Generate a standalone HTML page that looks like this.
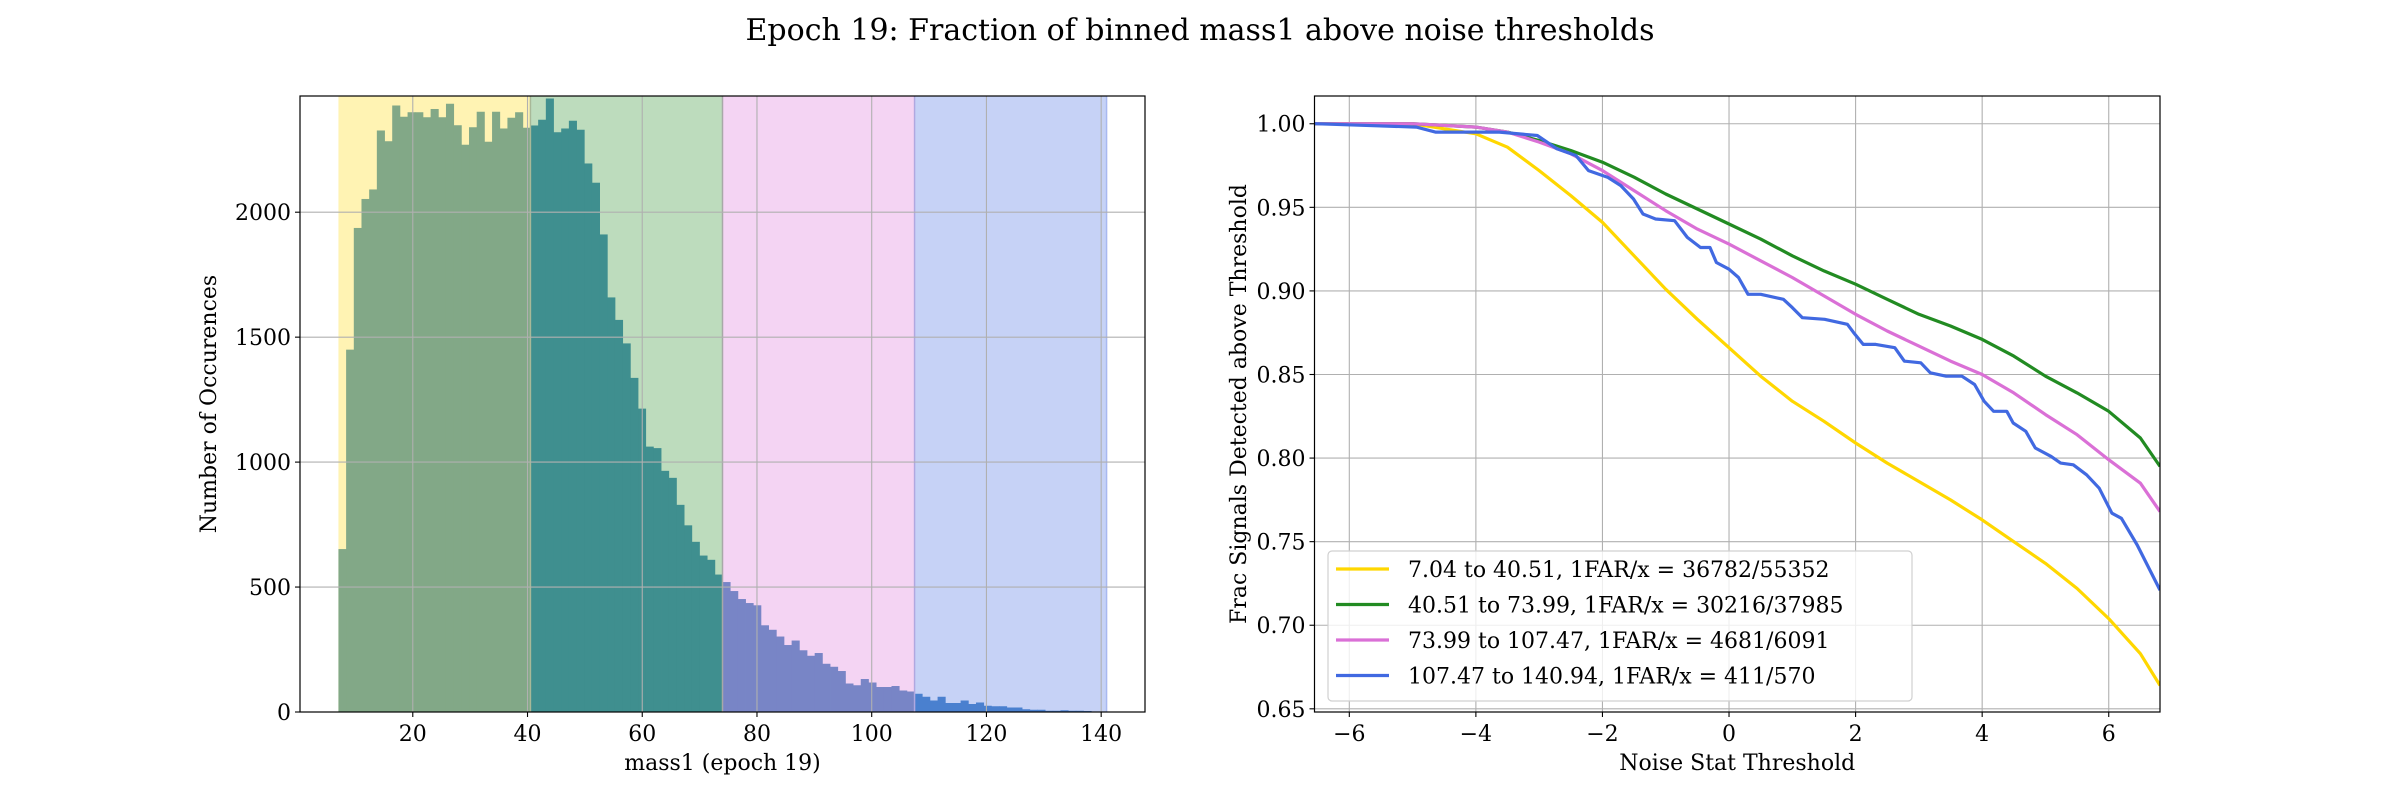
<!DOCTYPE html>
<html><head><meta charset="utf-8"><style>
html,body{margin:0;padding:0;background:#fff;}
svg{display:block;font-family:"DejaVu Serif","Liberation Serif",serif;}
</style></head><body>
<svg id="fig" width="2400" height="800" viewBox="0 0 2400 800" xmlns="http://www.w3.org/2000/svg">
<text x="1200" y="40" font-size="30" text-anchor="middle" fill="#000">Epoch 19: Fraction of binned mass1 above noise thresholds</text>
<g id="left"></g>
<g id="right"></g>
</svg>
<script>
// ---- Histogram data ----
const binStart = 7.04;
const binEnd = 140.94;
const regionEdges = [7.04, 40.51, 73.99, 107.47, 140.94];
const histCounts = [
 652,1450,1937,2053,2091,2327,2284,2427,2382,2400,2400,2380,2413,2380,2434,2348,2270,2340,2402,2282,2402,2335,2378,2400,2338,
 2347,2370,2455,2320,2335,2366,2330,2195,2118,1911,1659,1569,1475,1337,1214,1062,1056,965,937,829,747,681,626,609,550,
 520,484,452,436,427,347,329,302,268,286,247,225,236,193,181,164,114,107,132,118,100,100,104,86,82,
 73,61,46,61,36,36,46,32,38,25,23,23,18,18,11,9,9,5,5,7,5,5,4,2,2];
const histXTicks = [20,40,60,80,100,120,140];
const histYTicks = [0,500,1000,1500,2000];

// ---- Curve data ----
const curveX = [-6.55,-5,-4.5,-4,-3.5,-3,-2.5,-2,-1.5,-1,-0.5,0,0.5,1,1.5,2,2.5,3,3.5,4,4.5,5,5.5,6,6.5,6.81];
const yellowY = [1,1,0.997,0.994,0.986,0.972,0.957,0.941,0.921,0.901,0.883,0.866,0.849,0.834,0.822,0.809,0.797,0.786,0.775,0.763,0.750,0.737,0.722,0.704,0.683,0.664];
const greenY  = [1,1,0.999,0.998,0.995,0.990,0.984,0.977,0.968,0.958,0.949,0.940,0.931,0.921,0.912,0.904,0.895,0.886,0.879,0.871,0.861,0.849,0.839,0.828,0.812,0.795];
const pinkY   = [1,1,0.999,0.998,0.995,0.989,0.982,0.972,0.960,0.948,0.937,0.928,0.918,0.908,0.897,0.886,0.876,0.867,0.858,0.850,0.839,0.826,0.814,0.799,0.785,0.768];
const blueX = [-6.55,-4.94,-4.64,-3.63,-3.03,-2.72,-2.42,-2.22,-1.92,-1.71,-1.51,-1.36,-1.16,-0.86,-0.66,-0.45,-0.30,-0.2,0,0.15,0.30,0.50,0.86,1.0,1.16,1.51,1.87,1.97,2.12,2.32,2.62,2.77,3.03,3.18,3.43,3.68,3.88,4.03,4.18,4.39,4.49,4.69,4.84,5.09,5.24,5.44,5.65,5.85,6.05,6.2,6.45,6.81];
const blueY = [1,0.998,0.995,0.995,0.993,0.985,0.981,0.972,0.968,0.963,0.955,0.946,0.943,0.942,0.932,0.926,0.926,0.917,0.913,0.908,0.898,0.898,0.895,0.890,0.884,0.883,0.880,0.875,0.868,0.868,0.866,0.858,0.857,0.851,0.849,0.849,0.844,0.834,0.828,0.828,0.821,0.816,0.806,0.801,0.797,0.796,0.790,0.782,0.767,0.764,0.748,0.721];
const seriesLabels = ["7.04 to 40.51, 1FAR/x = 36782/55352","40.51 to 73.99, 1FAR/x = 30216/37985","73.99 to 107.47, 1FAR/x = 4681/6091","107.47 to 140.94, 1FAR/x = 411/570"];
const curveXTicks = [-6,-4,-2,0,2,4,6];
const curveYTicks = [0.65,0.70,0.75,0.80,0.85,0.90,0.95,1.00];

const NS="http://www.w3.org/2000/svg";
function mk(parent,tag,attrs,text){const e=document.createElementNS(NS,tag);for(const k in attrs)e.setAttribute(k,attrs[k]);if(text!==undefined)e.textContent=text;parent.appendChild(e);return e;}

// ---------- Left panel ----------
const L=document.getElementById('left');
const lx0=300,lx1=1145,ly0=96,ly1=712;
const hxMin=0.34,hxMax=147.64,hyMax=2465;
const hx=v=>lx0+(v-hxMin)/(hxMax-hxMin)*(lx1-lx0);
const hy=v=>ly1-v/hyMax*(ly1-ly0);
const spanCols=['#fff3b3','#bddcbd','#f4d4f3','#c6d2f6'];
const barCols=['#82a887','#3f8f8f','#7885c6','#4a80cf'];
for(let r=0;r<4;r++){
  const s=mk(L,'rect',{x:hx(regionEdges[r]),y:ly0,width:hx(regionEdges[r+1])-hx(regionEdges[r]),height:ly1-ly0,fill:spanCols[r]});
  
  
}
const bw=(binEnd-binStart)/histCounts.length;
histCounts.forEach((c,i)=>{
  const a=binStart+i*bw, b=a+bw;
  const reg=Math.min(3,Math.floor(i/(histCounts.length/4)));
  const r=mk(L,'rect',{x:hx(a),y:hy(c),width:hx(b)-hx(a)+0.4,height:ly1-hy(c),fill:barCols[reg]});
  
  
});
for(let r=1;r<5;r++){mk(L,'line',{x1:hx(regionEdges[r]),x2:hx(regionEdges[r]),y1:ly0,y2:ly1,stroke:['','#a8b898','#a8a8a8','#b0a8e0','#a8b8f0'][r],'stroke-width':1.5});}
histXTicks.forEach(t=>{
  mk(L,'line',{x1:hx(t),x2:hx(t),y1:ly0,y2:ly1,stroke:'#b0b0b0','stroke-width':1.1});
  mk(L,'line',{x1:hx(t),x2:hx(t),y1:ly1,y2:ly1+5,stroke:'#000','stroke-width':1.1});
  const tx=mk(L,'text',{x:hx(t),y:ly1+29,'font-size':22,'text-anchor':'middle'},String(t));
  
  
});
histYTicks.forEach(t=>{
  mk(L,'line',{x1:lx0,x2:lx1,y1:hy(t),y2:hy(t),stroke:'#b0b0b0','stroke-width':1.1});
  mk(L,'line',{x1:lx0-5,x2:lx0,y1:hy(t),y2:hy(t),stroke:'#000','stroke-width':1.1});
  const tx=mk(L,'text',{x:lx0-9,y:hy(t)+8,'font-size':22,'text-anchor':'end'},String(t));
  
  
});
mk(L,'rect',{x:lx0,y:ly0,width:lx1-lx0,height:ly1-ly0,fill:'none',stroke:'#000','stroke-width':1.2});
const lxl=mk(L,'text',{x:(lx0+lx1)/2,y:770,'font-size':22,'text-anchor':'middle'},'mass1 (epoch 19)');

const lyl=mk(L,'text',{x:0,y:0,'font-size':22,'text-anchor':'middle',transform:`translate(216,${(ly0+ly1)/2}) rotate(-90)`},'Number of Occurences');


// ---------- Right panel ----------
const R=document.getElementById('right');
const rx0=1314.5,rx1=2160,ry0=96,ry1=712;
const cxMin=-6.55,cxMax=6.81,cyMin=0.6481,cyMax=1.0166;
const cx=v=>rx0+(v-cxMin)/(cxMax-cxMin)*(rx1-rx0);
const cy=v=>ry1-(v-cyMin)/(cyMax-cyMin)*(ry1-ry0);
mk(R,'defs',{}).innerHTML=`<clipPath id="rclip"><rect x="${rx0}" y="${ry0}" width="${rx1-rx0}" height="${ry1-ry0}"/></clipPath>`;
curveXTicks.forEach(t=>{
  mk(R,'line',{x1:cx(t),x2:cx(t),y1:ry0,y2:ry1,stroke:'#b0b0b0','stroke-width':1.1});
  mk(R,'line',{x1:cx(t),x2:cx(t),y1:ry1,y2:ry1+5,stroke:'#000','stroke-width':1.1});
  const tx=mk(R,'text',{x:cx(t),y:ry1+29,'font-size':22,'text-anchor':'middle'},(t<0?'\u2212':'')+Math.abs(t));
  
  
});
curveYTicks.forEach(t=>{
  mk(R,'line',{x1:rx0,x2:rx1,y1:cy(t),y2:cy(t),stroke:'#b0b0b0','stroke-width':1.1});
  mk(R,'line',{x1:rx0-5,x2:rx0,y1:cy(t),y2:cy(t),stroke:'#000','stroke-width':1.1});
  const tx=mk(R,'text',{x:rx0-9,y:cy(t)+8,'font-size':22,'text-anchor':'end'},t.toFixed(2));
  
  
});
const series=[[curveX,yellowY],[curveX,greenY],[curveX,pinkY],[blueX,blueY]];
const sCols=['#FFD700','#228B22','#DA70D6','#4169E1'];
const sNames=['curve-mass-bin-1','curve-mass-bin-2','curve-mass-bin-3','curve-mass-bin-4'];
series.forEach(([xs,ys],k)=>{
  const pts=ys.map((v,i)=>cx(xs[i]).toFixed(1)+','+cy(v).toFixed(1)).join(' ');
  const p=mk(R,'polyline',{points:pts,fill:'none',stroke:sCols[k],'stroke-width':3.2,'stroke-linejoin':'round','clip-path':'url(#rclip)'});
  
  
});
mk(R,'rect',{x:rx0,y:ry0,width:rx1-rx0,height:ry1-ry0,fill:'none',stroke:'#000','stroke-width':1.2});
// legend
const lg=mk(R,'g',{});


mk(lg,'rect',{x:1328,y:551,width:584,height:150,rx:4,fill:'#fff','fill-opacity':0.8,stroke:'#d0d0d0','stroke-width':1.2});
seriesLabels.forEach((s,k)=>{
  const yy=569+k*35.5;
  const e=mk(lg,'g',{});
  
  
  mk(e,'line',{x1:1336,x2:1389,y1:yy,y2:yy,stroke:sCols[k],'stroke-width':3.2});
  mk(e,'text',{x:1408,y:yy+8,'font-size':22},s);
});
const rxl=mk(R,'text',{x:(rx0+rx1)/2,y:770,'font-size':22,'text-anchor':'middle'},'Noise Stat Threshold');

const ryl=mk(R,'text',{x:0,y:0,'font-size':22,'text-anchor':'middle',transform:`translate(1246,${(ry0+ry1)/2}) rotate(-90)`},'Frac Signals Detected above Threshold');

</script>
</body></html>
